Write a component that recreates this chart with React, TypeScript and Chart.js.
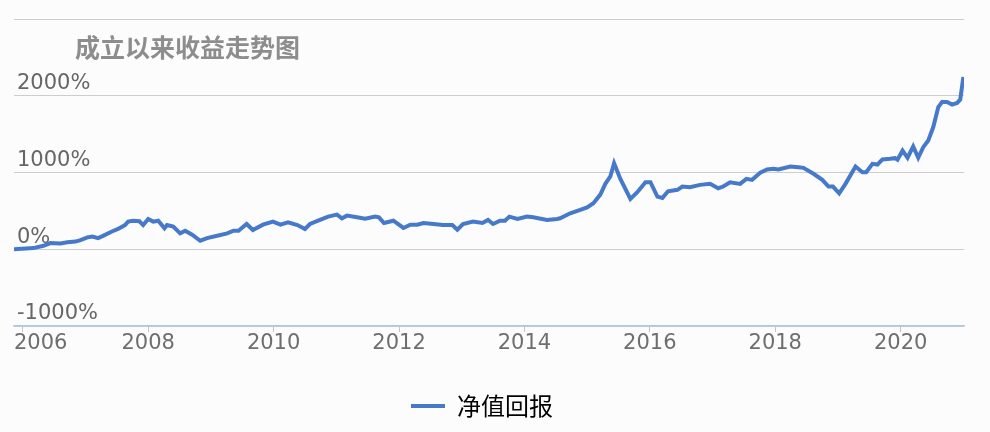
import React, { useEffect, useRef } from 'react';
import { Chart, registerables } from 'chart.js';

Chart.register(...registerables);

const TITLE = '成立以来收益走势图';
const SERIES_LABEL = '净值回报';

const dates = [
  2005.86, 2006.17, 2006.33, 2006.44, 2006.6, 2006.71, 2006.84, 2006.92, 2007.03, 2007.11,
  2007.2, 2007.28, 2007.43, 2007.52, 2007.63, 2007.68, 2007.76, 2007.86, 2007.92, 2008.0,
  2008.08, 2008.16, 2008.26, 2008.3, 2008.4, 2008.51, 2008.59, 2008.7, 2008.83, 2008.94,
  2009.1, 2009.26, 2009.36, 2009.44, 2009.57, 2009.67, 2009.83, 2009.99, 2010.11, 2010.23,
  2010.38, 2010.5, 2010.58, 2010.74, 2010.87, 2011.01, 2011.09, 2011.17, 2011.33, 2011.46,
  2011.62, 2011.68, 2011.76, 2011.91, 2012.07, 2012.18, 2012.29, 2012.39, 2012.55, 2012.7,
  2012.85, 2012.93, 2013.02, 2013.18, 2013.33, 2013.42, 2013.5, 2013.61, 2013.69, 2013.76,
  2013.89, 2014.04, 2014.14, 2014.36, 2014.52, 2014.57, 2014.73, 2014.89, 2015.0, 2015.1,
  2015.21, 2015.29, 2015.37, 2015.43, 2015.53, 2015.69, 2015.8, 2015.93, 2016.01, 2016.12,
  2016.2, 2016.29, 2016.44, 2016.52, 2016.64, 2016.8, 2016.96, 2017.09, 2017.17, 2017.28,
  2017.44, 2017.54, 2017.63, 2017.76, 2017.87, 2017.97, 2018.05, 2018.24, 2018.37, 2018.45,
  2018.61, 2018.75, 2018.85, 2018.92, 2019.02, 2019.12, 2019.28, 2019.39, 2019.45, 2019.55,
  2019.63, 2019.71, 2019.83, 2019.91, 2019.95, 2020.03, 2020.11, 2020.2, 2020.28, 2020.36,
  2020.44, 2020.52, 2020.6, 2020.66, 2020.74, 2020.82, 2020.9, 2020.95, 2021.0,
];

const returns = [
  0, 15, 45, 80, 75, 90, 100, 120, 155, 165,
  145, 175, 235, 265, 315, 360, 372, 365, 315, 395,
  360, 372, 272, 315, 295, 207, 242, 190, 111, 146,
  176, 207, 242, 242, 329, 250, 320, 360, 320, 350,
  316, 264, 329, 382, 425, 451, 403, 438, 416, 399,
  425, 416, 342, 372, 277, 320, 320, 342, 329, 316,
  316, 255, 329, 360, 342, 382, 329, 372, 372, 425,
  395, 425, 416, 382, 395, 403, 468, 512, 546, 599,
  712, 852, 948, 1121, 917, 656, 743, 873, 873, 686,
  669, 755, 774, 817, 808, 839, 852, 795, 817, 873,
  852, 917, 904, 996, 1039, 1048, 1040, 1078, 1069, 1061,
  983, 904, 817, 817, 729, 852, 1078, 1004, 1004, 1113,
  1104, 1170, 1179, 1187, 1166, 1287, 1192, 1340, 1192, 1330,
  1418, 1592, 1853, 1919, 1919, 1885, 1906, 1950, 2245,
];

const xTickYears = [2006, 2008, 2010, 2012, 2014, 2016, 2018, 2020];
const yTicks = [-1000, 0, 1000, 2000, 3000];
const X_MIN = 2005.86;
const X_MAX = 2021.01;

const LINE = '#4679c9';

const titlePlugin = {
  id: 'insideTitle',
  afterDraw(chart: any) {
    const { ctx, chartArea } = chart;
    ctx.save();
    ctx.font = 'bold 25px "Noto Sans CJK SC"';
    ctx.fillStyle = '#8d8d8d';
    ctx.textAlign = 'left';
    ctx.textBaseline = 'middle';
    ctx.fillText(TITLE, chartArea.left + 61, chartArea.top + 28);
    ctx.restore();
  },
};

export default function App() {
  const ref = useRef<HTMLCanvasElement>(null);

  useEffect(() => {
    document.body.style.margin = '0';
    document.body.style.background = '#fcfcfc';
    const lastIdx = xTickYears.length + 1;
    const chart = new Chart(ref.current as HTMLCanvasElement, {
      type: 'line',
      data: {
        datasets: [
          {
            label: SERIES_LABEL,
            data: dates.map((d, i) => ({ x: d, y: returns[i] })),
            borderColor: LINE,
            backgroundColor: LINE,
            borderWidth: 4,
            pointRadius: 0,
            tension: 0,
            fill: false,
          },
        ],
      },
      options: {
        animation: false,
        responsive: true,
        maintainAspectRatio: false,
        layout: { padding: { left: 0, right: 26, top: 19, bottom: 4 } },
        plugins: {
          legend: {
            position: 'bottom',
            labels: {
              boxWidth: 34,
              boxHeight: 4,
              padding: 20,
              color: '#56657a',
              font: { family: '"Noto Sans CJK SC"', size: 24 },
              generateLabels: () => [
                {
                  text: SERIES_LABEL,
                  fillStyle: LINE,
                  strokeStyle: LINE,
                  lineWidth: 0,
                  datasetIndex: 0,
                  hidden: false,
                },
              ],
            },
          },
          tooltip: { enabled: false },
        },
        scales: {
          x: {
            type: 'linear',
            min: X_MIN,
            max: X_MAX,
            afterBuildTicks: (s: any) => {
              s.ticks = [X_MIN, ...xTickYears, X_MAX].map((v) => ({ value: v }));
            },
            afterFit: (s: any) => {
              s.paddingLeft = 0;
              s.paddingRight = 0;
              s.height += 19;
            },
            ticks: {
              autoSkip: false,
              maxRotation: 0,
              minRotation: 0,
              align: 'inner',
              padding: 1,
              color: '#6e6e6e',
              font: { family: '"DejaVu Sans"', size: 21, lineHeight: 1 },
              callback: (v: any) => {
                if (v === X_MIN) return String(xTickYears[0]);
                if (v === X_MAX || v === xTickYears[0]) return '';
                return String(v);
              },
            },
            grid: {
              drawOnChartArea: false,
              drawTicks: true,
              tickLength: 6,
              tickColor: (c: any) =>
                c.index === 0 || c.index === lastIdx ? 'rgba(0,0,0,0)' : '#c4c4c4',
            },
            border: { color: '#b3c6e2', width: 1.5 },
          },
          y: {
            min: -1000,
            max: 3000,
            afterBuildTicks: (s: any) => {
              s.ticks = yTicks.map((v) => ({ value: v }));
            },
            afterFit: (s: any) => {
              s.width = 14;
            },
            ticks: {
              mirror: true,
              padding: 3,
              labelOffset: -12,
              color: '#666666',
              font: { family: '"DejaVu Sans"', size: 21 },
              callback: (v: any) => (v === yTicks[yTicks.length - 1] ? '' : `${v}%`),
            },
            grid: { color: '#cdcdcd', lineWidth: 1, drawTicks: false },
            border: { display: false },
          },
        },
      } as any,
      plugins: [titlePlugin],
    });
    return () => chart.destroy();
  }, []);

  return (
    <div style={{ width: 990, height: 432, position: 'relative' }}>
      <canvas ref={ref} />
    </div>
  );
}
